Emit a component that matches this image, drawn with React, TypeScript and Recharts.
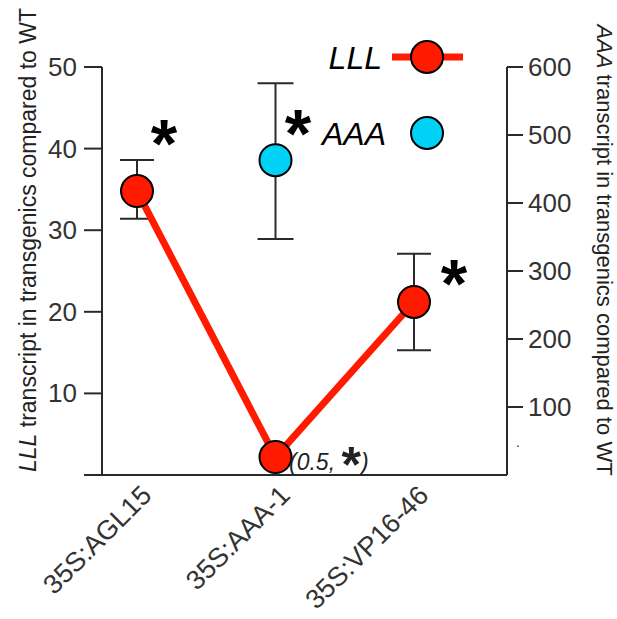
import { LineChart, Line, XAxis, YAxis, ErrorBar } from 'recharts';

const categories = ['35S:AGL15', '35S:AAA-1', '35S:VP16-46'];
const lllMean = [34.8, 2.2, 21.2];
const lllLow = [31.4, null, 15.3];
const lllHigh = [38.6, null, 27.1];
const aaaMean = [null, 463, null];
const aaaLow = [null, 347, null];
const aaaHigh = [null, 576, null];
const leftTicks = [0, 10, 20, 30, 40, 50];
const rightTicks = [100, 200, 300, 400, 500, 600];

const rows = categories.map((name, i) => ({
    name,
    lll: lllMean[i],
    lllErr: lllLow[i] == null ? undefined : [lllMean[i] - (lllLow[i] as number), (lllHigh[i] as number) - lllMean[i]],
    aaa: aaaMean[i],
    aaaErr: aaaMean[i] == null ? undefined : [(aaaMean[i] as number) - (aaaLow[i] as number), (aaaHigh[i] as number) - (aaaMean[i] as number)],
}));

const RED = '#ff1a00';
const CYAN = '#00d2f6';
const INK = '#2a2a2a';
const FONT = 'Liberation Sans, Arial, sans-serif';

const LeftTick = (props: any) => {
    const { x, y, payload } = props;
    if (payload.value === 0) return null;
    return (
        <text x={x - 5} y={y} dy={9} textAnchor="end" fontSize={26} fill="#333" fontFamily={FONT}>
            {payload.value}
        </text>
    );
};

const RightTick = (props: any) => {
    const { x, y, payload } = props;
    return (
        <text x={x + 3} y={y} dy={9} textAnchor="start" fontSize={26} fill="#333" fontFamily={FONT}>
            {payload.value}
        </text>
    );
};

const CatTick = (props: any) => {
    const { x, y, payload } = props;
    const ax = x + 16;
    const ay = y + 14;
    return (
        <text
            x={ax}
            y={ay}
            textAnchor="end"
            fontSize={27}
            fill="#333"
            fontFamily={FONT}
            transform={`rotate(-45 ${ax} ${ay})`}
        >
            {payload.value}
        </text>
    );
};

export default function App() {
    return (
        <div style={{ position: 'absolute', left: 0, top: 0, width: 617, height: 619, background: '#fff' }}>
            <LineChart
                width={617}
                height={619}
                data={rows}
                margin={{ top: 67, right: 50, bottom: 44, left: 42 }}
            >
                <XAxis
                    dataKey="name"
                    padding={{ left: 35, right: 93 }}
                    height={100}
                    tickLine={false}
                    axisLine={{ stroke: INK, strokeWidth: 2 }}
                    tick={<CatTick />}
                    interval={0}
                />
                <YAxis
                    yAxisId="l"
                    domain={[0, 50]}
                    ticks={leftTicks}
                    width={60}
                    tickSize={18}
                    axisLine={{ stroke: INK, strokeWidth: 2 }}
                    tickLine={{ stroke: INK, strokeWidth: 2 }}
                    tick={<LeftTick />}
                />
                <YAxis
                    yAxisId="r"
                    orientation="right"
                    domain={[0, 600]}
                    ticks={rightTicks}
                    width={60}
                    tickSize={16}
                    axisLine={{ stroke: INK, strokeWidth: 2 }}
                    tickLine={{ stroke: INK, strokeWidth: 2 }}
                    tick={<RightTick />}
                />
                <Line
                    yAxisId="l"
                    dataKey="lll"
                    stroke={RED}
                    strokeWidth={7}
                    isAnimationActive={false}
                    dot={{ r: 16, fill: RED, stroke: '#000', strokeWidth: 2 }}
                    activeDot={false}
                >
                    <ErrorBar dataKey="lllErr" width={17} stroke={INK} strokeWidth={2} direction="y" />
                </Line>
                <Line
                    yAxisId="r"
                    dataKey="aaa"
                    stroke="none"
                    isAnimationActive={false}
                    dot={{ r: 16, fill: CYAN, stroke: '#000', strokeWidth: 2 }}
                    activeDot={false}
                >
                    <ErrorBar dataKey="aaaErr" width={18} stroke={INK} strokeWidth={2} direction="y" />
                </Line>
            </LineChart>
            <svg width={617} height={619} style={{ position: 'absolute', left: 0, top: 0, pointerEvents: 'none' }}>
                <g fontFamily={FONT}>
                    <text transform="translate(36 240) rotate(-90)" textAnchor="middle" fontSize={23} fill="#222">
                        <tspan fontStyle="italic">LLL</tspan> transcript in transgenics compared to WT
                    </text>
                    <text transform="translate(597 250) rotate(90)" textAnchor="middle" fontSize={22} fill="#222">
                        <tspan fontStyle="italic">AAA</tspan> transcript in transgenics compared to WT
                    </text>
                    <text x={516} y={447} fontSize={14} fill="#333">.</text>
                    <text x={382} y={69} textAnchor="end" fontSize={32} fontStyle="italic" fill="#000">LLL</text>
                    <line x1={392} y1={57} x2={463} y2={57} stroke={RED} strokeWidth={7} />
                    <circle cx={427} cy={57} r={16} fill={RED} stroke="#000" strokeWidth={2} />
                    <text x={386} y={145} textAnchor="end" fontSize={32} fontStyle="italic" fill="#000">AAA</text>
                    <circle cx={427} cy={133} r={16} fill={CYAN} stroke="#000" strokeWidth={2} />
                    <text x={164} y={167} textAnchor="middle" fontSize={68} fontWeight="bold" fill="#000">*</text>
                    <text x={298} y={157} textAnchor="middle" fontSize={68} fontWeight="bold" fill="#000">*</text>
                    <text x={454} y={307} textAnchor="middle" fontSize={68} fontWeight="bold" fill="#000">*</text>
                    <text x={289} y={470} fontSize={23} fontStyle="italic" fill="#222">
                        (0.5,{' '}
                        <tspan fontSize={50} fontStyle="normal" fontWeight="bold" dy={12}>*</tspan>
                        <tspan dy={-12}>)</tspan>
                    </text>
                </g>
            </svg>
        </div>
    );
}
